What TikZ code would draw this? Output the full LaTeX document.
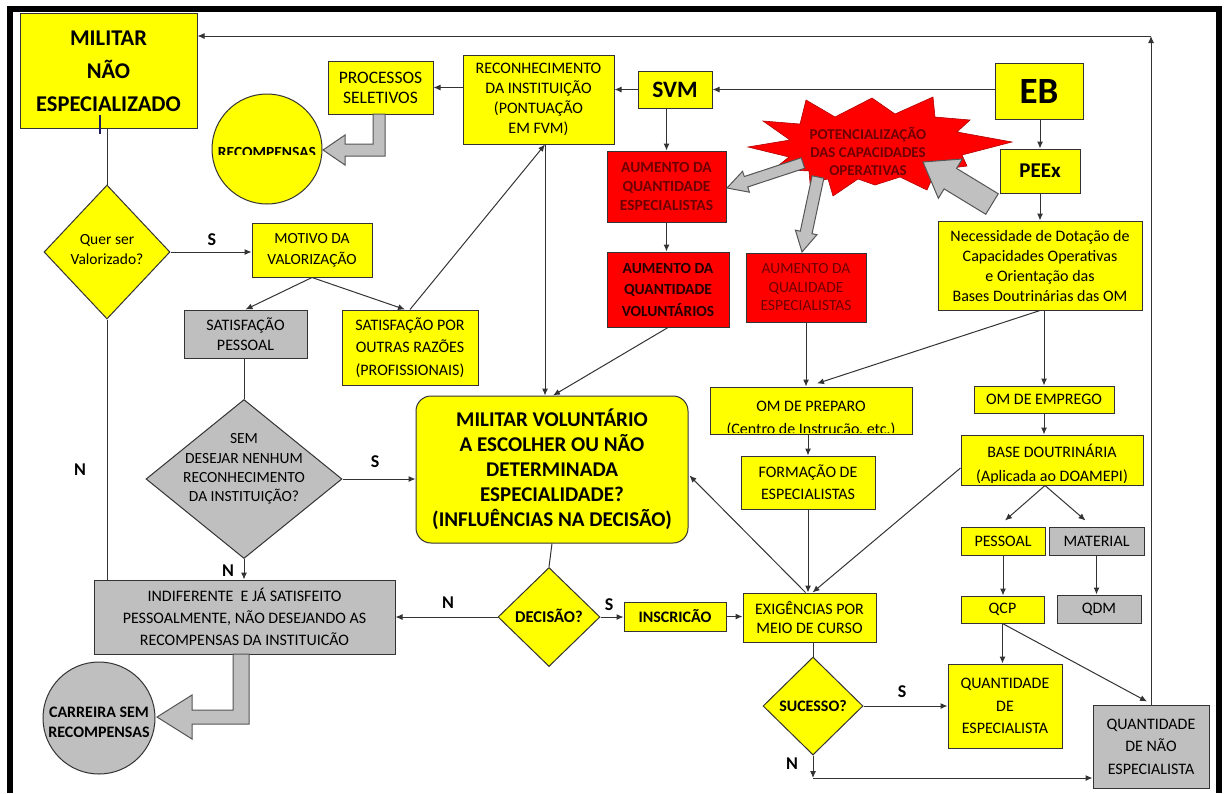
\documentclass[tikz,border=0pt]{standalone}
\usepackage{fontspec}
\setmainfont{Carlito}
\usetikzlibrary{shapes.geometric,arrows.meta,calc}
\definecolor{ylw}{HTML}{FFFF00}
\definecolor{gry}{HTML}{BFBFBF}
\definecolor{rd}{HTML}{FF0000}
\definecolor{drd}{HTML}{6E0000}
\definecolor{ln}{HTML}{333333}
\definecolor{blkf}{HTML}{C0C0C0}
\definecolor{blkd}{HTML}{555555}
\definecolor{cur}{HTML}{1E1E5A}
\tikzset{
 box/.style={draw=ln, line width=1pt, inner sep=0pt, align=center, font=\fontsize{16}{20}\selectfont},
 sz/.style 2 args={minimum width=#1pt, minimum height=#2pt},
 yb/.style={box, fill=ylw},
 gb/.style={box, fill=gry},
 rb/.style={box, fill=rd, text=drd},
 dia/.style={diamond, draw=ln, line width=1pt, inner sep=0pt},
 txt/.style={inner sep=0pt, align=center, font=\fontsize{16}{20}\selectfont},
 lab/.style={inner sep=0pt, font=\fontsize{18}{20}\selectfont\bfseries},
 arr/.style={draw=ln, line width=1pt, -{Latex[length=7pt,width=6pt]}},
 con/.style={draw=ln, line width=1pt},
 blk/.style={fill=blkf, draw=blkd, line width=1pt},
}
\newcommand\blockarr[5]{%
\path[blk] let \p1=($(#2)-(#1)$), \n1={atan2(\y1,\x1)} in
 ($(#1)+(\n1+90:#3)$) --
 ($(#2)+(\n1+180:#5)+(\n1+90:#3)$) --
 ($(#2)+(\n1+180:#5)+(\n1+90:#4)$) --
 (#2) --
 ($(#2)+(\n1+180:#5)+(\n1-90:#4)$) --
 ($(#2)+(\n1+180:#5)+(\n1-90:#3)$) --
 ($(#1)+(\n1-90:#3)$) -- cycle;}
\begin{document}
\begin{tikzpicture}[x=1pt,y=-1pt]
\useasboundingbox (0,0) rectangle (1226,793);
\fill[white] (0,0) rectangle (1226,793);
% frame
\draw[line width=6pt,black] (9.5,793) -- (9.5,8.5) -- (1218.5,8.5) -- (1218.5,793);

% ---- nodes ----
\node[yb, sz={177}{115}, font=\fontsize{22.5}{33}\selectfont\bfseries] (mil) at (108.5,71) {MILITAR\\NÃO\\ESPECIALIZADO};
\draw[line width=1.5pt, draw=cur] (100,115) -- (100,134);
\node[yb, sz={105}{53}, font=\fontsize{17.5}{20}\selectfont] (proc) at (380.5,87.5) {PROCESSOS\\SELETIVOS};
\node[circle, draw=ln, line width=1pt, fill=ylw, minimum size=110pt, inner sep=0pt] (recomp) at (267,149) {};
\begin{scope}
\clip (212,100) rectangle (323,154.5);
\node[anchor=base, inner sep=0pt, font=\fontsize{15.5}{18}\selectfont\bfseries] (recompT) at (267,157) {RECOMPENSAS};
\end{scope}
\node[yb, sz={151}{89}] (recon) at (538.5,99.5) {RECONHECIMENTO\\DA INSTITUIÇÃO\\(PONTUAÇÃO\\EM FVM)};
\node[yb, sz={74}{37}, font=\fontsize{23.5}{26}\selectfont\bfseries] (svm) at (675,89.5) {SVM};
\node[yb, sz={88}{56}, font=\fontsize{37}{40}\selectfont\bfseries] (eb) at (1039,91) {EB};
\node[yb, sz={80}{44}, font=\fontsize{21}{24}\selectfont\bfseries] (peex) at (1040,171) {PEEx};
\node[rb, sz={119}{71}, font=\fontsize{15.5}{19}\selectfont\bfseries] (aqe) at (666.5,186.5) {AUMENTO DA\\QUANTIDADE\\ESPECIALISTAS};
\node[rb, sz={122}{75}, text=black!85!red, font=\fontsize{15.5}{21.5}\selectfont\bfseries] (aqv) at (668,289.5) {AUMENTO DA\\QUANTIDADE\\VOLUNTÁRIOS};
\node[rb, sz={120}{69}, font=\fontsize{15.5}{18.5}\selectfont] (aql) at (806,287.5) {AUMENTO DA\\QUALIDADE\\ESPECIALISTAS};
\node[yb, sz={204}{89}] (nec) at (1040,265.5) {Necessidade de Dotação de\\Capacidades Operativas\\e Orientação das\\Bases Doutrinárias das OM};
\node[yb, sz={120}{54}, font=\fontsize{15.5}{21}\selectfont] (motivo) at (312,250) {MOTIVO DA\\VALORIZAÇÃO};
\node[dia, fill=ylw, minimum width=126pt, minimum height=134pt] (quer) at (107,252) {};
\node[txt, font=\fontsize{15.5}{20}\selectfont] (querT) at (107,250) {Quer ser\\Valorizado?};
\node[gb, sz={123}{48}] (satp) at (245.5,334) {SATISFAÇÃO\\PESSOAL};
\node[yb, sz={136}{75}, font=\fontsize{16}{22.5}\selectfont] (sato) at (410,347.5) {SATISFAÇÃO POR\\OUTRAS RAZÕES\\(PROFISSIONAIS)};
\node[dia, fill=gry, minimum width=196pt, minimum height=159pt] (sem) at (244,479) {};
\node[txt, font=\fontsize{15.5}{19.3}\selectfont] (semT) at (244,469) {SEM\\DESEJAR NENHUM\\RECONHECIMENTO\\DA INSTITUIÇÃO?};
\node[yb, rounded corners=15pt, sz={272}{147}, font=\fontsize{21}{25}\selectfont\bfseries] (mv) at (552,469.5) {MILITAR VOLUNTÁRIO\\A ESCOLHER OU NÃO\\DETERMINADA\\ESPECIALIDADE?\\(INFLUÊNCIAS NA DECISÃO)};
\node[dia, fill=ylw, minimum width=102pt, minimum height=99pt] (dec) at (549,617) {};
\node[txt, font=\fontsize{16.5}{20}\selectfont\bfseries] (decT) at (549,616) {DECISÃO?};
\node[yb, sz={102}{29}, font=\fontsize{16}{18}\selectfont\bfseries] (insc) at (675,616.5) {INSCRICÃO};
\node[yb, sz={133}{49}, font=\fontsize{16}{19.5}\selectfont] (exig) at (809.5,617.5) {EXIGÊNCIAS POR\\MEIO DE CURSO};
\node[gb, sz={301}{74}, font=\fontsize{16}{22}\selectfont] (indif) at (244.5,617) {INDIFERENTE\ \ E JÁ SATISFEITO\\PESSOALMENTE, NÃO DESEJANDO AS\\RECOMPENSAS DA INSTITUICÃO};
\node[circle, draw=ln, line width=1pt, fill=gry, minimum size=112pt, inner sep=0pt] (carr) at (99,718) {};
\node[txt, font=\fontsize{16}{20}\selectfont\bfseries] (carrT) at (99,722) {CARREIRA SEM\\RECOMPENSAS};
\node[yb, sz={202}{47}] (omp) at (811,410.5) {};
\begin{scope}
\clip (711,388) rectangle (911,432.5);
\node[txt, anchor=base] (ompT1) at (811,411) {OM DE PREPARO};
\node[txt, anchor=base] (ompT2) at (811,434) {(Centro de Instrução, etc.)};
\end{scope}
\node[yb, sz={134}{53}, font=\fontsize{16}{22}\selectfont] (form) at (808,482.5) {FORMAÇÃO DE\\ESPECIALISTAS};
\node[yb, sz={140}{27}] (ome) at (1044,399.5) {OM DE EMPREGO};
\node[yb, sz={182}{50}] (base) at (1052,460) {};
\begin{scope}
\clip (962,436) rectangle (1142,482.5);
\node[txt, anchor=base] (baseT1) at (1052,457) {BASE DOUTRINÁRIA};
\node[txt, anchor=base] (baseT2) at (1052,481) {(Aplicada ao DOAMEPI)};
\end{scope}
\node[yb, sz={84}{28}] (pes) at (1003,541) {PESSOAL};
\node[gb, sz={95}{28}] (mat) at (1096.5,541) {MATERIAL};
\node[yb, sz={83}{27}] (qcp) at (1002.5,609.5) {QCP};
\node[gb, sz={84}{28}] (qdm) at (1099,609) {QDM};
\node[yb, sz={114}{84}, font=\fontsize{16}{22.5}\selectfont] (qe) at (1005,706) {QUANTIDADE\\DE\\ESPECIALISTA};
\node[gb, sz={116}{83}, font=\fontsize{16}{22.5}\selectfont] (qne) at (1151,746.5) {QUANTIDADE\\DE NÃO\\ESPECIALISTA};
\node[dia, fill=ylw, minimum width=100pt, minimum height=98pt] (suc) at (813,706) {};
\node[txt, font=\fontsize{16}{20}\selectfont\bfseries] (sucT) at (813,706) {SUCESSO?};

% ---- labels ----
\node[lab] (lS1) at (212,240) {S};
\node[lab] (lN1) at (80,470) {N};
\node[lab] (lS2) at (375,462) {S};
\node[lab] (lN2) at (228,571) {N};
\node[lab] (lN3) at (448,603) {N};
\node[lab] (lS3) at (609,605) {S};
\node[lab] (lS4) at (902,692) {S};
\node[lab] (lN4) at (792,764) {N};

% ---- connectors ----
\coordinate (tr) at (1151,36);
\draw[arr] (qne.north) -- (tr);
\draw[arr] (tr) -- (mil.east|-tr);
\draw[con] (quer.north|-mil.south) -- (quer.north);
\draw[arr] (quer.east) -- (quer.east-|motivo.west);
\draw[con] (quer.south) -- (quer.south|-indif.north);
\draw[arr] (motivo.south) -- (satp.north);
\draw[arr] (motivo.south) -- ($(sato.north)+(-5,0)$);
\coordinate (rb) at ($(recon.south)+(6.5,0)$);
\draw[arr] (sato.north) -- (rb);
\draw[arr] (rb) -- (rb|-mv.north);
\draw[arr] (recon.west|-proc.east) -- (proc.east);
\draw[arr] (svm.west) -- (svm.west-|recon.east);
\draw[arr] (eb.west|-svm.east) -- (svm.east);
\draw[arr] (aqe.north|-svm.south) -- (aqe.north);
\draw[arr] (aqe.south) -- (aqe.south|-aqv.north);
\draw[arr] (aqv.south) -- ($(mv.north)+(1,0)$);
\draw[arr] (peex.north|-eb.south) -- (peex.north);
\draw[arr] (peex.south) -- (peex.south|-nec.north);
\draw[arr] (nec.south) -- ($(omp.north)+(6,-3)$);
\draw[arr] (ome.north|-nec.south) -- (ome.north);
\draw[arr] (ome.south) -- (ome.south|-base.north);
\draw[arr] ($(base.south)+(-7,0)$) -- ($(pes.north)+(2,-6)$);
\draw[arr] ($(base.south)+(-7,0)$) -- ($(mat.north)+(-11,-6)$);
\draw[arr] (pes.south) -- (pes.south|-qcp.north);
\draw[arr] (mat.south) -- (mat.south|-qdm.north);
\draw[arr] (qcp.south) -- (qcp.south|-qe.north);
\draw[arr] (qcp.south) -- ($(qne.north)+(-4,-3)$);
\draw[arr] (aql.south) -- (aql.south|-omp.north);
\draw[arr] (form.north|-omp.south) -- (form.north);
\draw[arr] (form.south) -- (form.south|-exig.north);
\draw[arr] ($(base.west)+(0,8)$) -- ($(exig.north)+(3,0)$);
\draw[arr] ($(exig.north)+(-4,0)$) -- ($(mv.east)+(1,6)$);
\draw[con] (mv.south) -- (dec.north);
\draw[arr] (dec.west) -- (dec.west-|indif.east);
\draw[arr] (dec.east) -- (dec.east-|insc.west);
\draw[arr] (insc.east) -- (insc.east-|exig.west);
\draw[con] (suc.north|-exig.south) -- (suc.north);
\draw[arr] (suc.east) -- (suc.east-|qe.west);
\coordinate (bl) at (813,778);
\draw[arr] (suc.south) -- (bl);
\draw[arr] (bl) -- (bl-|qne.west);
\draw[arr] (sem.east) -- (sem.east-|mv.west);
\draw[con] (sem.north|-satp.south) -- (sem.north);
\draw[arr] (sem.south) -- (sem.south|-indif.north);

% ---- bent block arrows ----
\path[blk] (373,114) -- (385,114) -- (385,156) -- (345,156) -- (345,165) -- (323,150) -- (345,135) -- (345,144) -- (373,144) -- cycle;
\path[blk] (233,654) -- (249,654) -- (249,724) -- (192,724) -- (192,739) -- (157,717) -- (192,695) -- (192,710) -- (233,710) -- cycle;

% ---- star ----
\path[fill=rd, draw=red!70!black, line width=0.6pt]
 (748,147) -- (790,140) -- (763,121) -- (800,124) -- (806,100) -- (835,117) -- (872,98) -- (895,114) -- (933,97) -- (935,117) -- (970,120) -- (957,132) -- (1012,142) -- (962,155) -- (967,166) -- (936,170) -- (927,190) -- (900,177) -- (875,185) -- (858,179) -- (833,196) -- (828,179) -- (810,183) -- (809,171) -- (774,169) -- (789,157) -- cycle;
\coordinate (b1s) at (803,163); \coordinate (b1e) at (727,188);
\coordinate (b2s) at (818,177); \coordinate (b2e) at (802,252);
\coordinate (b3s) at (992,204); \coordinate (b3e) at (923,162);
\blockarr{b1s}{b1e}{5.5pt}{11pt}{20pt}
\blockarr{b2s}{b2e}{6pt}{11pt}{20pt}
\blockarr{b3s}{b3e}{12pt}{23pt}{32pt}
\node[inner sep=0pt, align=center, text=drd, font=\fontsize{15}{18}\selectfont\bfseries] (starT) at (868,151) {POTENCIALIZAÇÃO\\DAS CAPACIDADES\\OPERATIVAS};
\end{tikzpicture}
\end{document}
